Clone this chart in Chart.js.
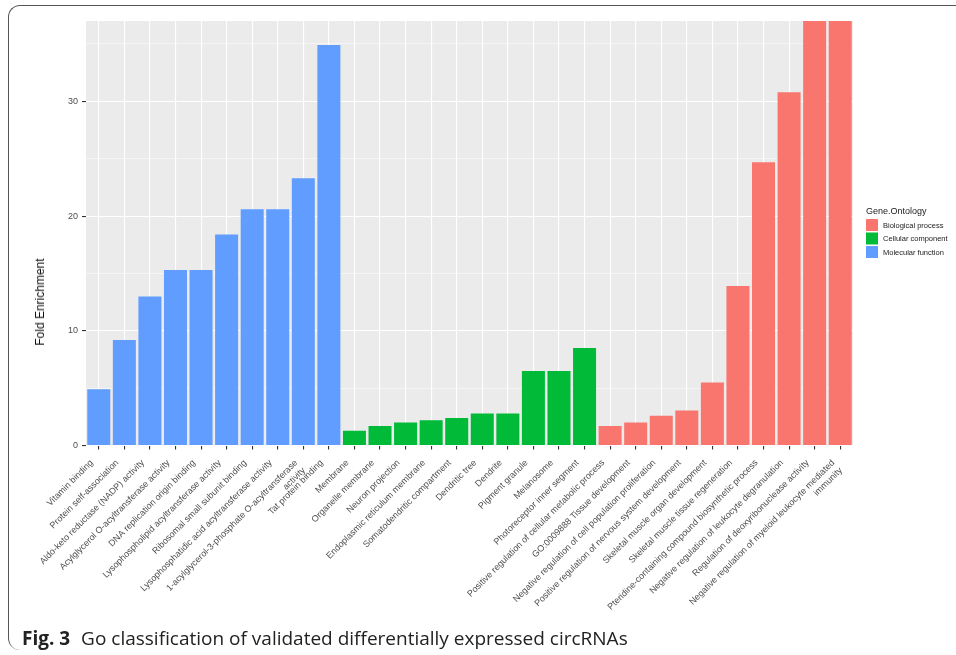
<!DOCTYPE html>
<html>
<head>
<meta charset="utf-8">
<script src="https://cdn.jsdelivr.net/npm/chart.js@4"></script>
<style>
  body { margin: 0; width: 956px; height: 655px; background: #fff; overflow: hidden; position: relative; }
  #frame { position: absolute; left: 8px; top: 5px; width: 980px; height: 645px;
           border-top: 1.5px solid #555; border-left: 1.5px solid #555;
           border-top-left-radius: 12px; border-bottom-left-radius: 12px; box-sizing: border-box; }
  #wrap { position: absolute; left: 10px; top: 8px; width: 946px; height: 620px; }
  #ytitle { position: absolute; left: 40px; top: 302px; transform: translate(-50%, -50%) rotate(-90deg);
            font: 12px "Liberation Sans", Arial, sans-serif; color: #111; white-space: nowrap; }
  #caption { position: absolute; left: 22px; top: 625px; font: 19px "Open Sans", sans-serif; color: #222; }
  #caption b { font-weight: 700; margin-right: 6px; }
</style>
</head>
<body>
<div id="frame"></div>
<div id="wrap"><canvas id="goChart"></canvas></div>
<div id="ytitle">Fold Enrichment</div>
<div id="caption"><b>Fig. 3</b> Go classification of validated differentially expressed circRNAs</div>
<script>
// categories per ontology, left to right
const molecularLabels = [
  "Vitamin binding", "Protein self-association", "Aldo-keto reductase (NADP) activity",
  "Acylglycerol O-acyltransferase activity", "DNA replication origin binding",
  "Lysophospholipid acyltransferase activity", "Ribosomal small subunit binding",
  "Lysophosphatidic acid acyltransferase activity",
  ["1-acylglycerol-3-phosphate O-acyltransferase", "activity"], "Tat protein binding"
];
const cellularLabels = [
  "Membrane", "Organelle membrane", "Neuron projection", "Endoplasmic reticulum membrane",
  "Somatodendritic compartment", "Dendritic tree", "Dendrite", "Pigment granule",
  "Melanosome", "Photoreceptor inner segment"
];
const biologicalLabels = [
  "Positive regulation of cellular metabolic process", "GO:0009888 Tissue development",
  "Negative regulation of cell population proliferation",
  "Positive regulation of nervous system development", "Skeletal muscle organ development",
  "Skeletal muscle tissue regeneration", "Pteridine-containing compound biosynthetic process",
  "Negative regulation of leukocyte degranulation", "Regulation of deoxyribonuclease activity",
  ["Negative regulation of myeloid leukocyte mediated", "immunity"]
];

// fold enrichment values
const molecularValues = [4.9, 9.2, 13.0, 15.3, 15.3, 18.4, 20.6, 20.6, 23.3, 34.9];
const cellularValues = [1.3, 1.7, 2.0, 2.2, 2.4, 2.8, 2.8, 6.5, 6.5, 8.5];
const biologicalValues = [1.7, 2.0, 2.6, 3.05, 5.5, 13.9, 24.7, 30.8, 37, 37];

const yMax = 37;

const labels = [...molecularLabels, ...cellularLabels, ...biologicalLabels];
const nM = molecularValues.length, nC = cellularValues.length, nB = biologicalValues.length;
const pad = n => new Array(n).fill(null);

const bioData = [...pad(nM + nC), ...biologicalValues];
const cellData = [...pad(nM), ...cellularValues, ...pad(nB)];
const molData = [...molecularValues, ...pad(nC + nB)];

const sans = '"Liberation Sans", Arial, sans-serif';

// grey panel background like ggplot
const panelBg = {
  id: 'panelBg',
  beforeDraw(chart) {
    const { ctx, chartArea: a } = chart;
    ctx.save();
    ctx.fillStyle = '#EBEBEB';
    ctx.fillRect(a.left, a.top, a.right - a.left, a.bottom - a.top);
    ctx.restore();
  }
};

// ggplot style legend to the right of the panel, built from the datasets
const sideLegend = {
  id: 'sideLegend',
  afterDraw(chart) {
    const { ctx, chartArea: a } = chart;
    const x = a.right + 13;
    let y = a.top + 193;
    ctx.save();
    ctx.fillStyle = '#222';
    ctx.font = '9px ' + sans;
    ctx.textBaseline = 'alphabetic';
    ctx.fillText('Gene.Ontology', x, y);
    y += 5;
    ctx.font = '7.5px ' + sans;
    ctx.textBaseline = 'middle';
    chart.data.datasets.forEach(ds => {
      ctx.fillStyle = ds.backgroundColor;
      ctx.fillRect(x, y, 12, 12);
      ctx.fillStyle = '#222';
      ctx.fillText(ds.label, x + 17, y + 6.5);
      y += 13.5;
    });
    ctx.restore();
  }
};

const tickFont = { family: sans, size: 9 };

new Chart(document.getElementById('goChart').getContext('2d'), {
  type: 'bar',
  data: {
    labels: labels,
    datasets: [
      { label: 'Biological process', data: bioData, backgroundColor: '#F8766D' },
      { label: 'Cellular component', data: cellData, backgroundColor: '#00BA38' },
      { label: 'Molecular function', data: molData, backgroundColor: '#619CFF' }
    ]
  },
  options: {
    responsive: true,
    maintainAspectRatio: false,
    animation: false,
    layout: { padding: { top: 13, right: 103, left: 0, bottom: 0 } },
    datasets: { bar: { grouped: false, barPercentage: 0.9, categoryPercentage: 1, borderWidth: 0 } },
    plugins: {
      tooltip: { enabled: false },
      legend: { display: false }
    },
    scales: {
      x: {
        border: { display: false },
        grid: { color: '#FFFFFF', lineWidth: 1.1, offset: false, drawTicks: true,
                tickLength: 4, tickColor: '#333' },
        ticks: { minRotation: 45, maxRotation: 45, autoSkip: false, color: '#4D4D4D',
                 font: tickFont, padding: 8, labelOffset: -7 }
      },
      y: {
        min: 0, max: yMax,
        border: { display: false },
        afterFit: s => { s.width = 76; },
        grid: {
          color: '#FFFFFF',
          lineWidth: c => (c.tick && c.tick.value % 10 === 0 ? 1.1 : 0.5),
          tickLength: 4,
          tickColor: c => (c.tick && c.tick.value % 10 === 0 ? '#333' : 'rgba(0,0,0,0)')
        },
        ticks: {
          stepSize: 5, includeBounds: false, color: '#4D4D4D', font: tickFont, padding: 4,
          callback: v => (v % 10 === 0 ? v : '')
        }
      }
    }
  },
  plugins: [panelBg, sideLegend]
});
</script>
</body>
</html>
